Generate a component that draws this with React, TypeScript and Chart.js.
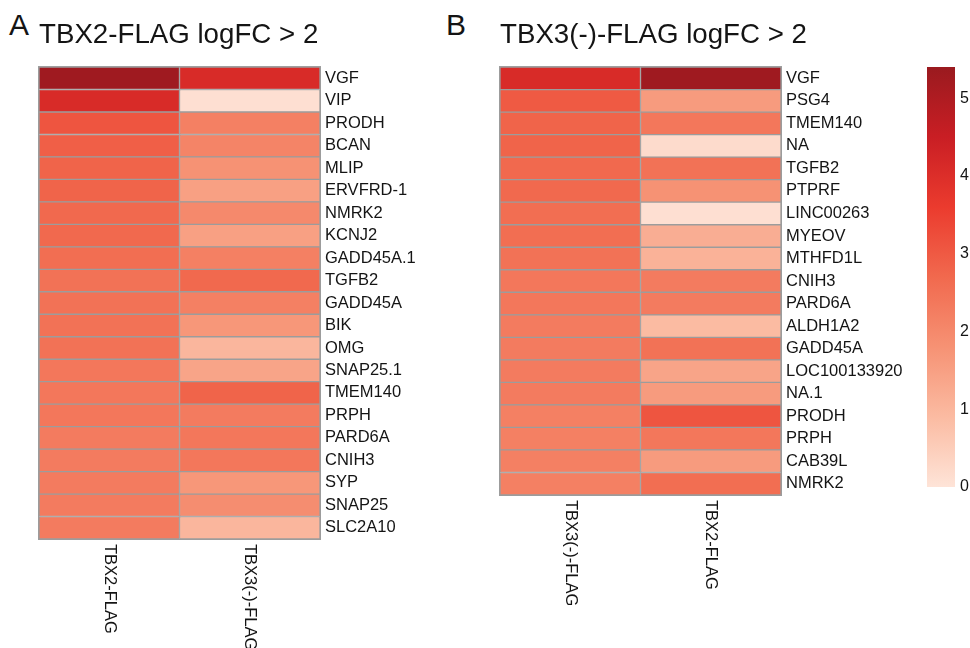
import { useEffect, useRef } from "react";
import { Chart, registerables } from "chart.js";

Chart.register(...registerables);

// ---------- Data ----------
const GENES_A = [
  "VGF", "VIP", "PRODH", "BCAN", "MLIP", "ERVFRD-1", "NMRK2", "KCNJ2", "GADD45A.1", "TGFB2",
  "GADD45A", "BIK", "OMG", "SNAP25.1", "TMEM140", "PRPH", "PARD6A", "CNIH3", "SYP", "SNAP25", "SLC2A10",
];
const COLUMNS_A = ["TBX2-FLAG", "TBX3(-)-FLAG"];
const TBX2_A = [5.3, 4.1, 3.1, 2.9, 2.8, 2.8, 2.7, 2.7, 2.6, 2.5, 2.5, 2.5, 2.5, 2.4, 2.4, 2.4, 2.3, 2.3, 2.3, 2.3, 2.3];
const TBX3_A = [4.1, 0.1, 2.2, 2.1, 1.8, 1.5, 2.0, 1.5, 2.2, 2.7, 2.2, 1.7, 1.0, 1.4, 2.8, 2.3, 2.4, 2.4, 1.7, 1.9, 1.0];

const GENES_B = [
  "VGF", "PSG4", "TMEM140", "NA", "TGFB2", "PTPRF", "LINC00263", "MYEOV", "MTHFD1L", "CNIH3",
  "PARD6A", "ALDH1A2", "GADD45A", "LOC100133920", "NA.1", "PRODH", "PRPH", "CAB39L", "NMRK2",
];
const COLUMNS_B = ["TBX3(-)-FLAG", "TBX2-FLAG"];
const TBX3_B = [4.1, 3.0, 2.8, 2.8, 2.7, 2.7, 2.6, 2.6, 2.5, 2.4, 2.4, 2.3, 2.3, 2.3, 2.3, 2.2, 2.2, 2.2, 2.2];
const TBX2_B = [5.3, 1.6, 2.4, 0.2, 2.5, 1.8, 0.1, 1.2, 1.1, 2.3, 2.3, 0.9, 2.5, 1.4, 1.6, 3.1, 2.4, 1.6, 2.6];

const LEGEND_TICKS = [0, 1, 2, 3, 4, 5];
const LEGEND_MAX = 5.4;
const PALETTE = ["#FEE4D8", "#FBBBA2", "#F69274", "#F1694E", "#EB3B2E", "#C91E24", "#9A1A1F"];

// ---------- Styles ----------
const GRID = "#9C9C9C";
const TEXT = "#141414";
const FONT = "'Liberation Sans', Arial, Helvetica, sans-serif";

function hexToRgb(h: string) {
  const n = parseInt(h.slice(1), 16);
  return [(n >> 16) & 255, (n >> 8) & 255, n & 255];
}
function colorFor(v: number) {
  const t = Math.max(0, Math.min(1, v / LEGEND_MAX)) * (PALETTE.length - 1);
  const i = Math.min(PALETTE.length - 2, Math.floor(t));
  const f = t - i;
  const a = hexToRgb(PALETTE[i]);
  const b = hexToRgb(PALETTE[i + 1]);
  const c = a.map((x, k) => Math.round(x + (b[k] - x) * f));
  return `rgb(${c[0]},${c[1]},${c[2]})`;
}

const frameAndLabels = {
  id: "frameAndLabels",
  afterDatasetsDraw(chart: any, _args: any, opts: any) {
    const { ctx, chartArea } = chart;
    const x = chart.scales.x;
    ctx.save();
    ctx.strokeStyle = GRID;
    ctx.lineWidth = 1;
    ctx.strokeRect(chartArea.left - 0.5, chartArea.top - 0.5, chartArea.right - chartArea.left + 1, chartArea.bottom - chartArea.top + 1);
    ctx.fillStyle = TEXT;
    ctx.font = `16.5px ${FONT}`;
    ctx.textAlign = "left";
    ctx.textBaseline = "middle";
    (opts.columns as string[]).forEach((c, i) => {
      const px = x.getPixelForValue(i + 0.5);
      ctx.save();
      ctx.translate(px, chartArea.bottom + 5);
      ctx.rotate(Math.PI / 2);
      ctx.fillText(c, 0, 0);
      ctx.restore();
    });
    ctx.restore();
  },
};

type HeatProps = {
  left: number; width: number; padLeft: number; axisWidth: number; padBottom: number;
  title: string; genes: string[]; columns: string[]; series: number[][];
};

function Heatmap(p: HeatProps) {
  const ref = useRef<HTMLCanvasElement>(null);
  useEffect(() => {
    const chart = new Chart(ref.current!, {
      type: "bar",
      data: {
        labels: p.genes,
        datasets: p.columns.map((c, ci) => ({
          label: c,
          data: p.series[ci].map(() => [ci, ci + 1]),
          backgroundColor: p.series[ci].map(colorFor),
          borderColor: GRID,
          borderWidth: 1,
          borderSkipped: false,
          grouped: false,
          barPercentage: 1,
          categoryPercentage: 1,
        })) as any,
      },
      options: {
        indexAxis: "y",
        responsive: false,
        animation: false,
        events: [],
        layout: { padding: { left: p.padLeft, top: 0, right: 0, bottom: p.padBottom } },
        plugins: {
          legend: { display: false },
          tooltip: { enabled: false },
          title: {
            display: true,
            text: p.title,
            align: "start",
            color: TEXT,
            font: { family: FONT, size: 27.7, weight: "normal" },
            padding: { top: 19, bottom: 14.8 },
          },
          frameAndLabels: { columns: p.columns },
        } as any,
        scales: {
          x: { type: "linear", min: 0, max: p.columns.length, display: false },
          y: {
            position: "right",
            grid: { display: false, drawTicks: false },
            border: { display: false },
            ticks: { padding: 5, autoSkip: false, color: TEXT, font: { family: FONT, size: 16.5 } },
            afterFit: (s: any) => { s.width = p.axisWidth; },
          },
        },
      },
      plugins: [frameAndLabels],
    });
    return () => chart.destroy();
  }, []);
  return (
    <canvas ref={ref} width={p.width} height={648}
      style={{ position: "absolute", left: p.left, top: 0, width: p.width, height: 648 }} />
  );
}

function ColorBar() {
  const ref = useRef<HTMLCanvasElement>(null);
  useEffect(() => {
    const chart = new Chart(ref.current!, {
      type: "bar",
      data: {
        labels: ["logFC"],
        datasets: [{
          data: [[0, LEGEND_MAX]] as any,
          backgroundColor: (ctx: any) => {
            const ch = ctx.chart;
            if (!ch.chartArea) return PALETTE[0];
            const y = ch.scales.y;
            const g = ch.ctx.createLinearGradient(0, y.getPixelForValue(0), 0, y.getPixelForValue(LEGEND_MAX));
            PALETTE.forEach((c, i) => g.addColorStop(i / (PALETTE.length - 1), c));
            return g;
          },
          borderWidth: 0,
          barPercentage: 1,
          categoryPercentage: 1,
        }],
      },
      options: {
        responsive: false,
        animation: false,
        events: [],
        layout: { padding: { left: 27, top: 67, right: 0, bottom: 161 } },
        plugins: { legend: { display: false }, tooltip: { enabled: false } },
        scales: {
          x: { display: false },
          y: {
            position: "right",
            min: 0,
            max: LEGEND_MAX,
            afterBuildTicks: (s: any) => { s.ticks = LEGEND_TICKS.map((v) => ({ value: v })); },
            grid: { display: false, drawTicks: false },
            border: { display: false },
            ticks: { padding: 5, color: TEXT, font: { family: FONT, size: 16 } },
            afterFit: (s: any) => { s.width = 15; },
          },
        },
      },
    });
    return () => chart.destroy();
  }, []);
  return (
    <canvas ref={ref} width={70} height={648}
      style={{ position: "absolute", left: 900, top: 0, width: 70, height: 648 }} />
  );
}

const letterStyle: any = {
  position: "absolute", top: 10, fontFamily: FONT, fontSize: 30, lineHeight: "30px", color: TEXT,
};

export default function App() {
  return (
    <div style={{ position: "absolute", left: 0, top: 0, width: 970, height: 648, background: "#fff", overflow: "hidden" }}>
      <div style={{ ...letterStyle, left: 9 }}>A</div>
      <div style={{ ...letterStyle, left: 446 }}>B</div>
      <Heatmap left={0} width={480} padLeft={39} axisWidth={160} padBottom={109}
        title="TBX2-FLAG logFC > 2" genes={GENES_A} columns={COLUMNS_A} series={[TBX2_A, TBX3_A]} />
      <Heatmap left={480} width={450} padLeft={20} axisWidth={149} padBottom={153}
        title="TBX3(-)-FLAG logFC > 2" genes={GENES_B} columns={COLUMNS_B} series={[TBX3_B, TBX2_B]} />
      <ColorBar />
    </div>
  );
}
